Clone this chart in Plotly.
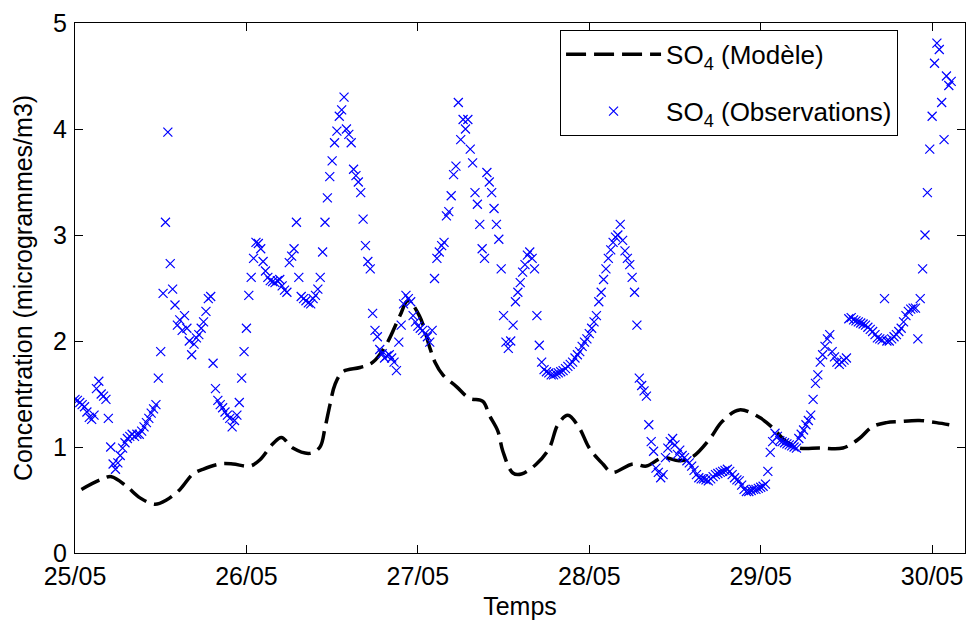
import pandas as pd
import plotly.graph_objects as go

# model SO4 (hours from 25/05 00:00, concentration)
model_hours = [0.9, 3.5, 5.1, 7.2, 9.1, 11.2, 12.8, 14.7, 16.5, 17.9, 20.3, 22.1,
               24.5, 25.9, 27.7, 28.9, 30.5, 32.9, 34.3, 35.0, 35.7, 36.4, 37.5, 39.9,
               41.7, 43.6, 45.5, 46.6, 48.2, 49.7, 50.4, 51.5, 53.4, 55.2, 57.1, 58.0,
               59.2, 59.9, 61.3, 62.5, 64.6, 66.4, 67.6, 69.0, 70.6, 72.0, 73.9, 75.2,
               78.1, 80.0, 82.3, 84.6, 86.5, 88.9, 90.6, 93.0, 95.8, 97.7, 99.6, 101.4,
               104.2, 107.5, 109.8, 111.6, 113.6, 115.4, 118.2, 120.6, 122.4]
model_vals = [0.60, 0.69, 0.72, 0.63, 0.52, 0.46, 0.50, 0.60, 0.745, 0.79, 0.84, 0.84,
              0.82, 0.88, 1.03, 1.09, 0.99, 0.94, 1.00, 1.18, 1.40, 1.59, 1.71, 1.75,
              1.80, 1.97, 2.24, 2.38, 2.24, 1.93, 1.80, 1.68, 1.57, 1.46, 1.43, 1.30,
              1.15, 0.96, 0.755, 0.745, 0.84, 0.99, 1.21, 1.30, 1.18, 0.99, 0.84, 0.76,
              0.84, 0.82, 0.90, 0.87, 0.91, 1.08, 1.24, 1.35, 1.28, 1.18, 1.05, 0.99,
              0.99, 0.99, 1.08, 1.19, 1.23, 1.24, 1.25, 1.23, 1.21]

# observed SO4, one value every 20 minutes from 25/05 00:00 (6 hours per row)
obs_vals = [
    1.45, 1.44, 1.42, 1.40, 1.38, 1.33, 1.28, 1.26, 1.30, 1.55, 1.62, 1.50, 1.48, 1.45, 1.27, 1.00, 0.84, 0.79,
    0.85, 0.92, 0.99, 1.04, 1.08, 1.10, 1.12, 1.10, 1.12, 1.12, 1.15, 1.19, 1.23, 1.27, 1.32, 1.36, 1.40, 1.65,
    1.90, 2.45, 3.12, 3.97, 2.73, 2.49, 2.34, 2.15, 2.20, 2.10, 2.24, 2.12, 2.00, 1.87, 1.97, 2.03, 2.06, 2.12,
    2.18, 2.28, 2.40, 2.42, 1.79, 1.55, 1.44, 1.40, 1.37, 1.33, 1.30, 1.27, 1.19, 1.25, 1.30, 1.42, 1.65, 1.90,
    2.12, 2.43, 2.60, 2.78, 2.93, 2.92, 2.87, 2.75, 2.66, 2.60, 2.57, 2.56, 2.55, 2.57, 2.58, 2.52, 2.48, 2.46,
    2.74, 2.80, 2.87, 3.12, 2.60, 2.42, 2.40, 2.38, 2.36, 2.35, 2.40, 2.43, 2.49, 2.60, 2.84, 3.12, 3.35, 3.55,
    3.70, 3.87, 3.98, 4.12, 4.18, 4.30, 4.00, 3.95, 3.87, 3.62, 3.56, 3.50, 3.40, 3.15, 2.90, 2.75, 2.68, 2.26,
    2.10, 2.04, 1.92, 1.88, 1.84, 1.86, 1.87, 1.84, 1.80, 1.72, 1.99, 2.15, 2.35, 2.43, 2.40, 2.37, 2.24, 2.18,
    2.14, 2.12, 2.10, 2.07, 2.04, 1.99, 2.10, 2.59, 2.78, 2.84, 2.90, 2.93, 3.18, 3.22, 3.37, 3.57, 3.65, 4.25,
    3.90, 4.09, 4.00, 4.09, 3.81, 3.68, 3.40, 3.29, 3.10, 2.87, 2.78, 3.59, 3.50, 3.40, 3.25, 3.10, 2.96, 2.68,
    2.24, 1.99, 1.93, 2.00, 2.15, 2.37, 2.46, 2.55, 2.65, 2.72, 2.81, 2.84, 2.78, 2.68, 2.24, 1.96, 1.80, 1.73,
    1.71, 1.70, 1.68, 1.68, 1.69, 1.70, 1.71, 1.72, 1.74, 1.76, 1.78, 1.80, 1.84, 1.87, 1.90, 1.95, 1.99, 2.02,
    2.07, 2.12, 2.18, 2.24, 2.37, 2.46, 2.58, 2.68, 2.78, 2.86, 2.93, 2.98, 3.00, 3.10, 2.95, 2.85, 2.78, 2.72,
    2.60, 2.46, 2.15, 1.65, 1.58, 1.53, 1.48, 1.21, 1.05, 0.96, 0.80, 0.76, 0.71, 0.74, 0.90, 0.99, 1.05, 1.08,
    1.02, 0.93, 0.97, 0.92, 0.90, 0.87, 0.85, 0.82, 0.78, 0.74, 0.71, 0.70, 0.70, 0.69, 0.68, 0.70, 0.72, 0.74,
    0.75, 0.76, 0.77, 0.78, 0.79, 0.77, 0.74, 0.71, 0.69, 0.68, 0.64, 0.60, 0.58, 0.58, 0.59, 0.60, 0.60, 0.61,
    0.62, 0.63, 0.65, 0.77, 0.95, 1.05, 1.13, 1.10, 1.06, 1.05, 1.04, 1.03, 1.02, 1.01, 1.00, 0.99, 1.08, 1.12,
    1.16, 1.21, 1.25, 1.30, 1.45, 1.60, 1.68, 1.80, 1.87, 1.95, 2.02, 2.06, 1.90, 1.85, 1.80, 1.78, 1.80, 1.82,
    1.84, 2.21, 2.22, 2.20, 2.19, 2.18, 2.17, 2.16, 2.15, 2.13, 2.11, 2.09, 2.06, 2.03, 2.02, 2.01, 2.40, 2.00,
    2.00, 2.02, 2.04, 2.06, 2.09, 2.12, 2.18, 2.24, 2.28, 2.30, 2.31, 2.31, 2.02, 2.40, 2.68, 3.00, 3.40, 3.81,
    4.12, 4.62, 4.81, 4.75, 4.25, 3.90, 4.50, 4.41, 4.45,
]

start = pd.Timestamp("2008-05-25 00:00")
obs_time = pd.date_range(start, periods=len(obs_vals), freq="20min")
model_time = start + pd.to_timedelta(model_hours, unit="h")

font = dict(family="Liberation Sans, Arial", size=25, color="black")

fig = go.Figure()
fig.add_trace(go.Scatter(
    x=model_time, y=model_vals, mode="lines", line_shape="spline",
    name="SO<sub>4</sub> (Modèle)", legendgroup="model",
    line=dict(color="black", width=3.5, dash="20px,8px"),
))
fig.add_trace(go.Scatter(
    x=obs_time, y=obs_vals, mode="markers",
    name="SO<sub>4</sub> (Observations)", legendgroup="obs",
    marker=dict(symbol="x-thin-open", size=9, color="blue",
                line=dict(color="blue", width=1.2)),
))

fig.update_xaxes(
    range=[start, start + pd.Timedelta(hours=124.6)],
    tickformat="%d/%m", dtick=86400000, tick0=start,
    ticks="inside", ticklen=8, tickcolor="black",
    showline=True, linecolor="black", linewidth=1, mirror="allticks",
    showgrid=False, zeroline=False, automargin=False,
    title=dict(text="Temps", font=font, standoff=8),
    tickfont=font, ticklabelstandoff=1,
)
fig.update_yaxes(
    range=[0, 5], dtick=1,
    ticks="inside", ticklen=8, tickcolor="black",
    showline=True, linecolor="black", linewidth=1, mirror="allticks",
    showgrid=False, zeroline=False, automargin=False,
    title=dict(text="Concentration (microgrammes/m3)", font=font, standoff=13),
    tickfont=font, ticklabelstandoff=2,
)

fig.update_layout(
    width=966, height=624,
    margin=dict(l=75, r=1, t=23, b=71),
    plot_bgcolor="white", paper_bgcolor="white",
    font=font,
    legend=dict(
        x=0.545, y=0.987, xanchor="left", yanchor="top",
        bordercolor="black", borderwidth=1, bgcolor="white",
        itemwidth=95, tracegroupgap=20,
        font=dict(family="Liberation Sans, Arial", size=26, color="black"),
    ),
)

fig.write_html("out.html", config={"displayModeBar": False},
               post_script="document.body.style.margin = '0';")
